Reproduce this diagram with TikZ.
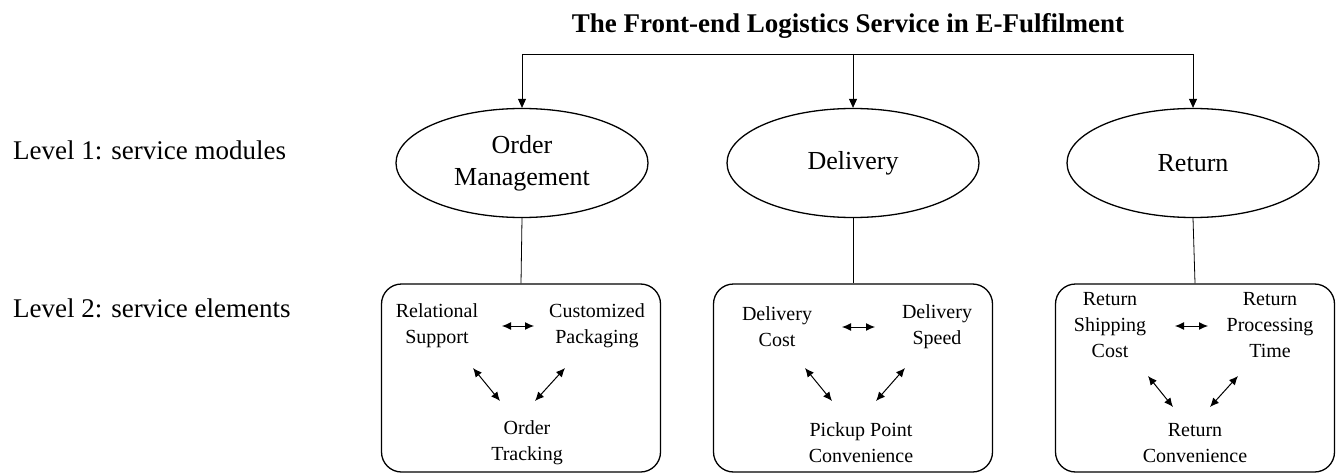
\documentclass[tikz,border=0pt]{standalone}
\usepackage{fontspec}
\setmainfont{Liberation Serif}
\usetikzlibrary{shapes,arrows.meta}

\begin{document}
\begin{tikzpicture}[x=1pt,y=-1pt,
                    module/.style={ellipse,draw,line width=1.3pt,minimum width=252pt,
                                   minimum height=109pt,inner sep=0pt,align=center,
                                   font=\fontsize{26}{32}\selectfont},
                    group/.style={rectangle,rounded corners=20pt,draw,line width=1.3pt,
                                  minimum width=279pt,minimum height=188pt},
                    elem/.style={align=center,inner sep=0pt,font=\fontsize{20}{26}\selectfont},
                    tier/.style={anchor=base west,inner sep=0pt,font=\fontsize{27}{32}\selectfont},
                    feed/.style={-{Triangle[length=9pt,width=8pt]},line width=0.8pt},
                    link/.style={{Latex[length=9pt,width=8pt]}-{Latex[length=9pt,width=8pt]},
                                 line width=1pt}]

  \useasboundingbox (0,0) rectangle (1337,473);

  \node[anchor=base,font=\fontsize{27}{32}\selectfont\bfseries] (title) at (848,33)
       {The Front-end Logistics Service in E-Fulfilment};
  \node[tier] (lv1) at (13,160) {Level 1: service modules};
  \node[tier] (lv2) at (13,317) {Level 2: service elements};

  \node[module] (om) at (522,163)  {Order\\Management};
  \node[module] (dl) at (853,163)  {Delivery};
  \node[module] (rt) at (1193,163) {Return};

  \node[group] (b1) at (521,378)  {};
  \node[group] (b2) at (853,378)  {};
  \node[group] (b3) at (1195,378) {};

  \node[elem] (rs)  at (437,326)  {Relational\\Support};
  \node[elem] (cp)  at (597,326)  {Customized\\Packaging};
  \node[elem] (ot)  at (527,443)  {Order\\Tracking};
  \node[elem] (dc)  at (777,327)  {Delivery\\Cost};
  \node[elem] (ds)  at (937,327)  {Delivery\\Speed};
  \node[elem] (pp)  at (861,443)  {Pickup Point\\Convenience};
  \node[elem] (rsc) at (1110,325) {Return\\Shipping\\Cost};
  \node[elem] (rpt) at (1270,325) {Return\\Processing\\Time};
  \node[elem] (rc)  at (1195,443) {Return\\Convenience};

  \coordinate (bar) at (853,54);
  \draw[line width=0.8pt] (om.north |- bar) -- (rt.north |- bar);
  \path[feed] (om.north |- bar) edge (om.north)
              (dl.north |- bar) edge (dl.north)
              (rt.north |- bar) edge (rt.north);

  \path[line width=0.8pt] (om.south) edge (b1.north)
                          (dl.south) edge (b2.north)
                          (rt.south) edge (b3.north);

  % order management
  \path[link] ([shift={(65,0)}]rs.center)  edge ([shift={(-63,0)}]cp.center)
              ([shift={(36,42)}]rs.center) edge ([shift={(-27,-42)}]ot.center)
              ([shift={(-32,42)}]cp.center) edge ([shift={(8,-42)}]ot.center);
  % delivery
  \path[link] ([shift={(65,0)}]dc.center)  edge ([shift={(-62,0)}]ds.center)
              ([shift={(28,41)}]dc.center) edge ([shift={(-29,-42)}]pp.center)
              ([shift={(-32,41)}]ds.center) edge ([shift={(15,-42)}]pp.center);
  % return
  \path[link] ([shift={(65,1)}]rsc.center)  edge ([shift={(-62,1)}]rpt.center)
              ([shift={(38,51)}]rsc.center) edge ([shift={(-22,-36)}]rc.center)
              ([shift={(-32,51)}]rpt.center) edge ([shift={(15,-36)}]rc.center);
\end{tikzpicture}
\end{document}
